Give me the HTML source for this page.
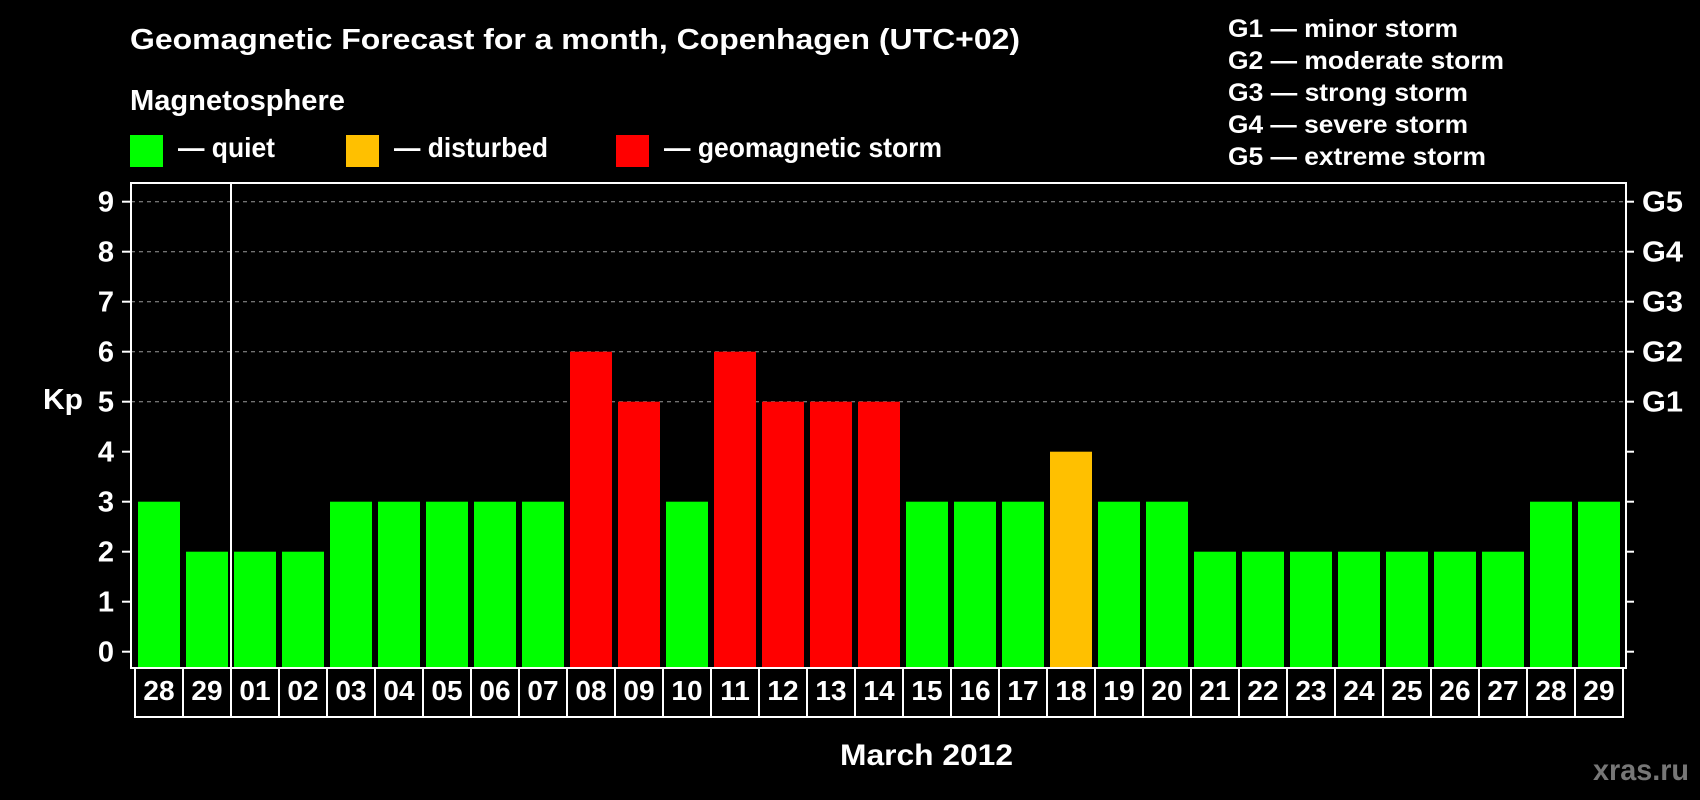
<!DOCTYPE html>
<html><head><meta charset="utf-8"><style>
html,body{margin:0;padding:0;background:#000;}
svg{display:block;font-family:"Liberation Sans",Arial,sans-serif;font-weight:bold;}
</style></head><body>
<svg id="chart" width="1700" height="800" viewBox="0 0 1700 800">
<rect x="0" y="0" width="1700" height="800" fill="#000"/>
<text x="130" y="49" fill="#fff" font-size="29" textLength="890" lengthAdjust="spacingAndGlyphs">Geomagnetic Forecast for a month, Copenhagen (UTC+02)</text>
<text x="130" y="110" fill="#fff" font-size="29" textLength="215" lengthAdjust="spacingAndGlyphs">Magnetosphere</text>
<g><rect x="130" y="135" width="33" height="32" fill="#00ff00"/><text x="178" y="157" fill="#fff" font-size="28" textLength="97" lengthAdjust="spacingAndGlyphs">— quiet</text></g>
<g><rect x="346" y="135" width="33" height="32" fill="#ffc000"/><text x="394" y="157" fill="#fff" font-size="28" textLength="154" lengthAdjust="spacingAndGlyphs">— disturbed</text></g>
<g><rect x="616" y="135" width="33" height="32" fill="#ff0000"/><text x="664" y="157" fill="#fff" font-size="28" textLength="278" lengthAdjust="spacingAndGlyphs">— geomagnetic storm</text></g>
<g fill="#fff" font-size="25">
<text x="1228" y="37" textLength="230" lengthAdjust="spacingAndGlyphs">G1 — minor storm</text>
<text x="1228" y="69" textLength="276" lengthAdjust="spacingAndGlyphs">G2 — moderate storm</text>
<text x="1228" y="101" textLength="240" lengthAdjust="spacingAndGlyphs">G3 — strong storm</text>
<text x="1228" y="133" textLength="240" lengthAdjust="spacingAndGlyphs">G4 — severe storm</text>
<text x="1228" y="165" textLength="258" lengthAdjust="spacingAndGlyphs">G5 — extreme storm</text>
</g>
<g id="grid"></g>
<g id="bars"></g>
<g id="axes"></g>
<g id="dates"></g>
<text x="43" y="409" fill="#fff" font-size="29" textLength="40" lengthAdjust="spacingAndGlyphs">Kp</text>
<text x="840" y="765" fill="#fff" font-size="30" textLength="173" lengthAdjust="spacingAndGlyphs">March 2012</text>
<text x="1593" y="780" fill="#777" font-size="30" textLength="96" lengthAdjust="spacingAndGlyphs">xras.ru</text>
</svg>
<script>
const categories = ["28","29","01","02","03","04","05","06","07","08","09","10","11","12","13","14","15","16","17","18","19","20","21","22","23","24","25","26","27","28","29"];
const kpValues = [3,2,2,2,3,3,3,3,3,6,5,3,6,5,5,5,3,3,3,4,3,3,2,2,2,2,2,2,2,3,3];
const yTicks = [0,1,2,3,4,5,6,7,8,9];
const gLabels = ["G1","G2","G3","G4","G5"];
const gLevels = [5,6,7,8,9];
const monthBreakIndex = 2;

const NS = "http://www.w3.org/2000/svg";
const L = 131, R = 1626, T = 183, B = 668;
const firstBar = 138, pitch = 48, barW = 42;
function y(v){ return 651.7 - v * 50; }
function xCat(i){ return firstBar + i * pitch; }
function mk(tag, attrs, parent){ const e = document.createElementNS(NS, tag); for (const k in attrs) e.setAttribute(k, attrs[k]); parent.appendChild(e); return e; }
function color(v){ return v >= 5 ? "#ff0000" : (v >= 4 ? "#ffc000" : "#00ff00"); }

const grid = document.getElementById("grid");
gLevels.forEach(function(v){
  const l = mk("line", {x1:L, x2:R, y1:y(v), y2:y(v), stroke:"#999", "stroke-width":1, "stroke-dasharray":"4,4"}, grid);
  
  
});

const bars = document.getElementById("bars");
kpValues.forEach(function(v, i){
  const r = mk("rect", {x:xCat(i), y:y(v), width:barW, height:B - y(v), fill:color(v)}, bars);
  
  
});

const axes = document.getElementById("axes");
const frame = mk("rect", {x:L, y:T, width:R - L, height:B - T, fill:"none", stroke:"#fff", "stroke-width":2}, axes);


const brk = xCat(monthBreakIndex) - 3;
const bl = mk("line", {x1:brk, x2:brk, y1:T, y2:B, stroke:"#fff", "stroke-width":2}, axes);


yTicks.forEach(function(v){
  const t = mk("line", {x1:122, x2:L, y1:y(v), y2:y(v), stroke:"#fff", "stroke-width":2}, axes);
  
  
  const t2 = mk("line", {x1:R, x2:1634, y1:y(v), y2:y(v), stroke:"#fff", "stroke-width":2}, axes);
  
  
  const lb = mk("text", {x:114, y:y(v) + 10, fill:"#fff", "font-size":29, "text-anchor":"end"}, axes);
  lb.textContent = v;
  
  
});
gLabels.forEach(function(g, i){
  const lb = mk("text", {x:1642, y:y(gLevels[i]) + 10, fill:"#fff", "font-size":29, textLength:41, lengthAdjust:"spacingAndGlyphs"}, axes);
  lb.textContent = g;
  
  
});

const dates = document.getElementById("dates");
categories.forEach(function(c, i){
  const x0 = xCat(i) - 3;
  const cell = mk("rect", {x:x0, y:B, width:pitch, height:49, fill:"none", stroke:"#fff", "stroke-width":2}, dates);
  
  
  const t = mk("text", {x:x0 + pitch/2, y:700, fill:"#fff", "font-size":28, "text-anchor":"middle"}, dates);
  t.textContent = c;
  
  
});
</script>
</body></html>
